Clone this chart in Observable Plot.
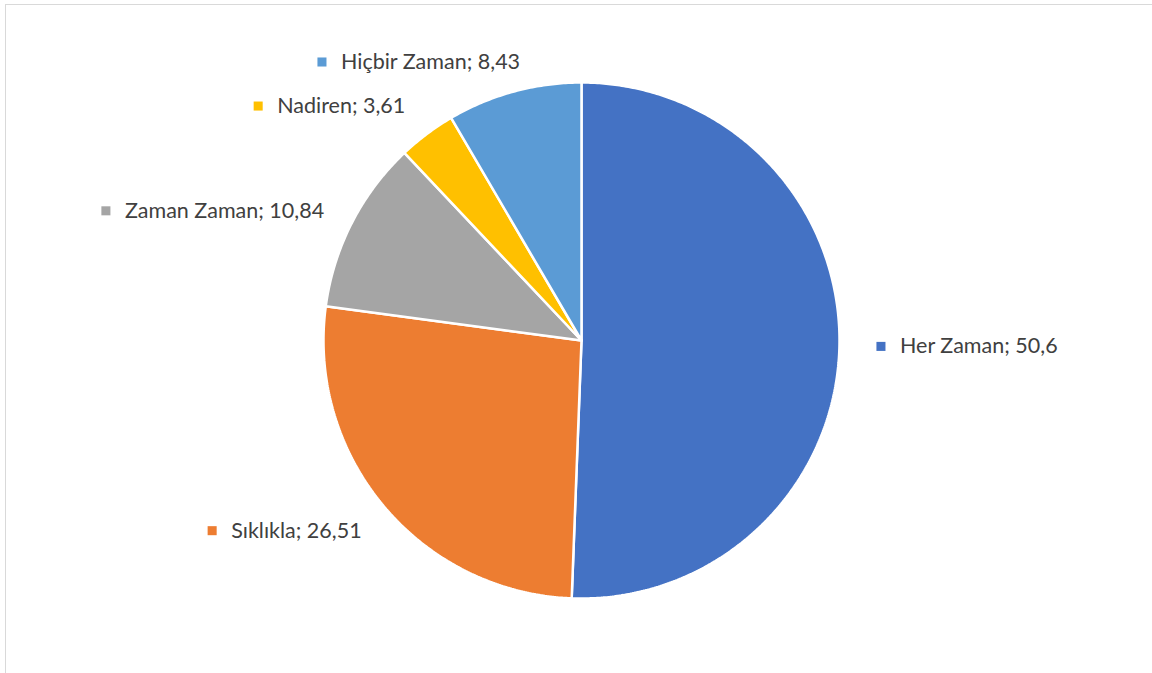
<!DOCTYPE html>
<html>
<head>
<meta charset="utf-8">
<script src="https://cdn.jsdelivr.net/npm/d3@7"></script>
<script src="https://cdn.jsdelivr.net/npm/@observablehq/plot@0.6"></script>
<style>
  html, body { margin: 0; padding: 0; background: #fff; overflow: hidden; width: 1152px; height: 673px; }
  #frame { position: absolute; left: 5px; top: 4px; width: 1200px; height: 700px; border: 1px solid #d9d9d9; box-sizing: border-box; }
  #chart { position: absolute; left: 0; top: 0; }
</style>
</head>
<body>
<div id="frame"></div>
<div id="chart"></div>
<script>
// Data
const categories = ["Her Zaman", "Sıklıkla", "Zaman Zaman", "Nadiren", "Hiçbir Zaman"];
const values = [50.6, 26.51, 10.84, 3.61, 8.43];
const colors = ["#4472C4", "#ED7D31", "#A5A5A5", "#FFC000", "#5B9BD5"];

// Layout: label offsets (px) from the slice's outer-edge midpoint
const labelOffsets = [[41.5, 1], [-172, 24], [-246, -12], [-168.6, -28], [-192, -29.5]];

const total = d3.sum(values);
const slices = [];
let cum = 0;
values.forEach((v, i) => {
  const a0 = cum / total * 2 * Math.PI;
  cum += v;
  const a1 = cum / total * 2 * Math.PI;
  slices.push({cat: categories[i], value: v, a0, a1, mid: (a0 + a1) / 2});
});

// Slice outlines in unit-circle data space (angle clockwise from 12 o'clock)
const pts = [];
slices.forEach(s => {
  pts.push({cat: s.cat, x: 0, y: 0});
  const n = Math.max(2, Math.ceil((s.a1 - s.a0) / (Math.PI / 360)));
  for (let k = 0; k <= n; k++) {
    const a = s.a0 + (s.a1 - s.a0) * k / n;
    pts.push({cat: s.cat, x: Math.sin(a), y: Math.cos(a)});
  }
  pts.push({cat: s.cat, x: 0, y: 0});
});

const labels = slices.map((s, i) => ({
  cat: s.cat,
  x: Math.sin(s.mid),
  y: Math.cos(s.mid),
  dx: labelOffsets[i][0],
  dy: labelOffsets[i][1],
  text: `${s.cat}; ${String(s.value).replace(".", ",")}`
}));

const font = "Lato, 'Noto Sans', sans-serif";
const marks = [
  Plot.line(pts, {x: "x", y: "y", z: "cat", fill: "cat", stroke: "white", strokeWidth: 2.5, strokeLinejoin: "miter", curve: "linear"})
];
labels.forEach(l => {
  marks.push(Plot.dot([l], {x: "x", y: "y", dx: l.dx, dy: l.dy, symbol: "square", r: 5.1, fill: "cat", stroke: null}));
  marks.push(Plot.text([l], {x: "x", y: "y", dx: l.dx + 19, dy: l.dy, text: "text", textAnchor: "start", fill: "#404040", fontSize: 21.5, fontFamily: font}));
});

const chart = Plot.plot({
  width: 1152,
  height: 673,
  margin: 0,
  style: {background: "transparent", overflow: "visible"},
  x: {domain: [-1, 1], range: [323, 839], axis: null},
  y: {domain: [-1, 1], range: [598, 82], axis: null},
  color: {domain: categories, range: colors},
  marks
});
document.getElementById("chart").appendChild(chart);
</script>
</body>
</html>
